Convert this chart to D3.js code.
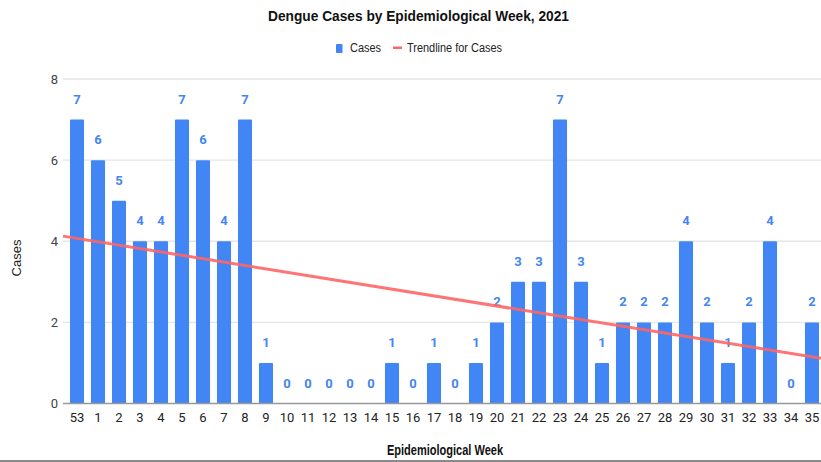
<!DOCTYPE html>
<html>
<head>
<meta charset="utf-8">
<script src="https://cdn.jsdelivr.net/npm/d3@7"></script>
<style>
  body { margin: 0; background: #fff; }
  svg { display: block; font-family: Roboto, Arial, sans-serif; }
  .narrow { font-family: "Liberation Sans", Arial, sans-serif; }
</style>
</head>
<body>
<svg id="chart" width="821" height="462"></svg>
<script>
// weeks and case counts
var weeks = ["53","1","2","3","4","5","6","7","8","9","10","11","12","13","14","15","16","17","18","19","20","21","22","23","24","25","26","27","28","29","30","31","32","33","34","35"];
var cases = [7,6,5,4,4,7,6,4,7,1,0,0,0,0,0,1,0,1,0,1,2,3,3,7,3,1,2,2,2,4,2,1,2,4,0,2];
var yTicks = [0,2,4,6,8];

var barColor = "#4285f4";
var trendColor = "#ff6666";

var svg = d3.select("#chart");

var x = d3.scaleBand()
    .domain(weeks)
    .range([66.5, 66.5 + weeks.length * 21])
    .paddingInner(0.33)
    .paddingOuter(0.165);

var y = d3.scaleLinear()
    .domain([0, 8])
    .range([403.5, 79]);

// gridlines
svg.append("g")
    .selectAll("line")
    .data(yTicks.filter(function(d) { return d > 0; }))
    .enter()
    .append("line")
    .attr("x1", 63)
    .attr("x2", 821)
    .attr("y1", function(d) { return y(d); })
    .attr("y2", function(d) { return y(d); })
    .style("stroke", "#e6e6e6")
    .style("stroke-width", 1.3);

// y tick labels
svg.append("g")
    .selectAll("text")
    .data(yTicks)
    .enter()
    .append("text")
    .attr("x", 58)
    .attr("y", function(d) { return y(d) + 4.5; })
    .attr("text-anchor", "end")
    .style("font-size", "13px")
    .style("fill", "#444")
    .text(function(d) { return d; });

// bars
svg.append("g")
    .selectAll("rect")
    .data(cases)
    .enter()
    .append("rect")
    .attr("x", function(d, i) { return x(weeks[i]); })
    .attr("width", x.bandwidth())
    .attr("y", function(d) { return y(d); })
    .attr("height", function(d) { return y(0) - y(d); })
    .attr("rx", 1)
    .style("fill", barColor);

// baseline
svg.append("line")
    .attr("x1", 63)
    .attr("x2", 821)
    .attr("y1", y(0))
    .attr("y2", y(0))
    .style("stroke", "#999")
    .style("stroke-width", 1.5);

// x tick labels
svg.append("g")
    .selectAll("text")
    .data(weeks)
    .enter()
    .append("text")
    .attr("x", function(d) { return x(d) + x.bandwidth() / 2; })
    .attr("y", 422)
    .attr("text-anchor", "middle")
    .style("font-size", "13px")
    .style("fill", "#222")
    .text(function(d) { return d; });

// linear trendline (least squares over category index)
var mx = d3.mean(cases, function(d, i) { return i; });
var my = d3.mean(cases);
var sxy = d3.sum(cases, function(d, i) { return (i - mx) * (d - my); });
var sxx = d3.sum(cases, function(d, i) { return (i - mx) * (i - mx); });
var slope = sxy / sxx;
var intercept = my - slope * mx;
var step = x.step();
var x0 = x(weeks[0]) + x.bandwidth() / 2;
function idxAt(px) { return (px - x0) / step; }
var trendX = [63, 821];

// value labels
svg.append("g")
    .selectAll("text")
    .data(cases)
    .enter()
    .append("text")
    .attr("x", function(d, i) { return x(weeks[i]) + x.bandwidth() / 2; })
    .attr("y", function(d) { return y(d) - 16; })
    .attr("text-anchor", "middle")
    .style("font-size", "13px")
    .style("font-weight", "bold")
    .style("fill", barColor)
    .text(function(d) { return d; });

svg.append("path")
    .datum(trendX)
    .attr("d", d3.line()
        .x(function(d) { return d; })
        .y(function(d) { return y(intercept + slope * idxAt(d)); }))
    .style("fill", "none")
    .style("stroke", trendColor)
    .style("stroke-width", 3)
    .style("stroke-opacity", 0.9);

// title
svg.append("text")
    .attr("class", "narrow")
    .attr("x", 268)
    .attr("y", 21)
    .attr("textLength", 301)
    .attr("lengthAdjust", "spacingAndGlyphs")
    .style("font-size", "15px")
    .style("font-weight", "bold")
    .style("fill", "#111")
    .text("Dengue Cases by Epidemiological Week, 2021");

// legend
var legend = svg.append("g").attr("class", "narrow");
legend.append("rect")
    .attr("x", 336).attr("y", 44)
    .attr("width", 6.5).attr("height", 9)
    .attr("rx", 1)
    .style("fill", barColor);
legend.append("text")
    .attr("x", 350).attr("y", 52)
    .attr("textLength", 31)
    .attr("lengthAdjust", "spacingAndGlyphs")
    .style("font-size", "12px")
    .style("fill", "#222")
    .text("Cases");
legend.append("rect")
    .attr("x", 393).attr("y", 46.5)
    .attr("width", 9).attr("height", 2.5)
    .style("fill", trendColor);
legend.append("text")
    .attr("x", 407).attr("y", 52)
    .attr("textLength", 95)
    .attr("lengthAdjust", "spacingAndGlyphs")
    .style("font-size", "12px")
    .style("fill", "#222")
    .text("Trendline for Cases");

// axis titles
svg.append("text")
    .attr("class", "narrow")
    .attr("transform", "translate(21,258) rotate(-90)")
    .attr("text-anchor", "middle")
    .style("font-size", "13px")
    .style("fill", "#222")
    .text("Cases");

svg.append("text")
    .attr("class", "narrow")
    .attr("x", 387)
    .attr("y", 455)
    .attr("textLength", 116)
    .attr("lengthAdjust", "spacingAndGlyphs")
    .style("font-size", "14px")
    .style("font-weight", "bold")
    .style("fill", "#111")
    .text("Epidemiological Week");

// grey strip at bottom edge
svg.append("rect")
    .attr("x", 0).attr("y", 460)
    .attr("width", 821).attr("height", 2)
    .style("fill", "#8a8a8a");
</script>
</body>
</html>
